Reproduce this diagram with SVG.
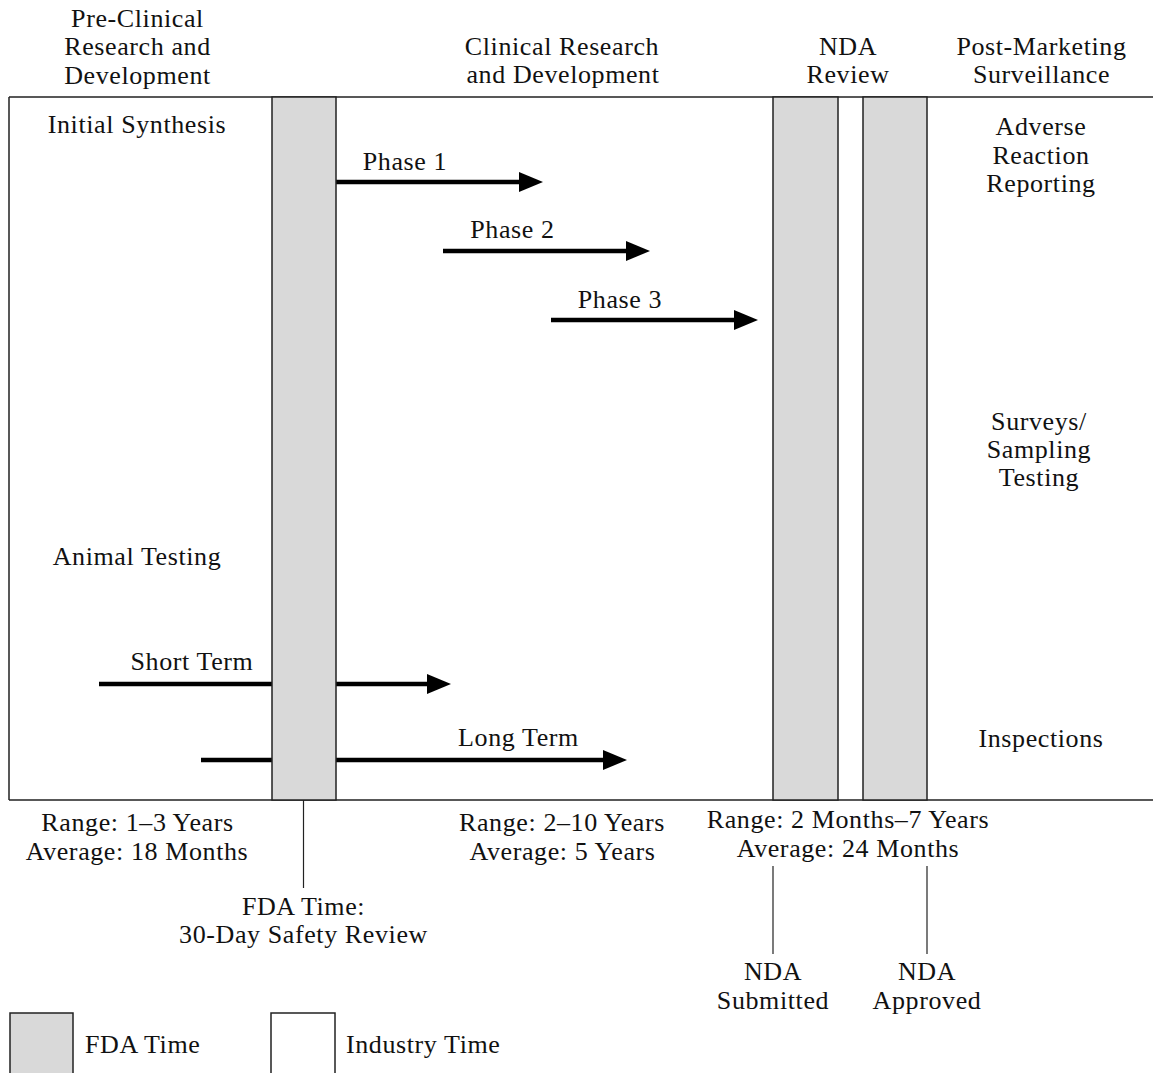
<svg xmlns="http://www.w3.org/2000/svg" width="1153" height="1073" viewBox="0 0 1153 1073">
<defs>
<style>
text{font-family:"Liberation Serif","Times New Roman",serif;font-size:26px;fill:#111;letter-spacing:0.6px}
.c{text-anchor:middle}
.frame{stroke:#222;stroke-width:1.5;fill:none}
.bar{fill:#d9d9d9;stroke:#222;stroke-width:1.5}
.thin{stroke:#222;stroke-width:1.2;fill:none}
.arr{stroke:#000;stroke-width:4.5;fill:none;marker-end:url(#ah)}
</style>
<marker id="ah" markerWidth="24" markerHeight="20" refX="4" refY="10" orient="auto" markerUnits="userSpaceOnUse">
<path d="M0,0 L24,10 L0,20 Z" fill="#000"/>
</marker>
</defs>
<rect width="1153" height="1073" fill="#fff"/>

<g id="frame">
<path class="frame" d="M9,97 H1153 M9,800 H1153 M9,97 V800"/>
</g>

<g id="headers">
<text class="c" x="137.5" y="27">Pre-Clinical</text>
<text class="c" x="137.5" y="55">Research and</text>
<text class="c" x="137.5" y="84">Development</text>
<text class="c" x="562" y="55">Clinical Research</text>
<text class="c" x="563" y="83">and Development</text>
<text class="c" x="848" y="55">NDA</text>
<text class="c" x="848" y="83">Review</text>
<text class="c" x="1041.5" y="55">Post-Marketing</text>
<text class="c" x="1041.5" y="83">Surveillance</text>
</g>

<g id="connectors">
<line class="arr" x1="336" y1="182" x2="523" y2="182"/>
<line class="arr" x1="443" y1="251" x2="630" y2="251"/>
<line class="arr" x1="551" y1="320" x2="738" y2="320"/>
<line class="arr" x1="99" y1="684" x2="431" y2="684"/>
<line class="arr" x1="201" y1="760" x2="607" y2="760"/>
<line class="thin" x1="303.5" y1="800" x2="303.5" y2="888"/>
<line class="thin" x1="773" y1="866" x2="773" y2="954"/>
<line class="thin" x1="927" y1="866" x2="927" y2="954"/>
</g>

<g id="ind-bar">
<rect class="bar" x="272" y="97" width="64" height="703"/>
</g>
<g id="nda-submitted-bar">
<rect class="bar" x="773" y="97" width="65" height="703"/>
</g>
<g id="nda-approved-bar">
<rect class="bar" x="863" y="97" width="64" height="703"/>
</g>

<g id="preclinical">
<text class="c" x="137" y="133">Initial Synthesis</text>
<text class="c" x="137" y="565">Animal Testing</text>
<text class="c" x="192" y="670">Short Term</text>
<text class="c" x="518.5" y="746">Long Term</text>
</g>

<g id="phases">
<text class="c" x="405" y="170">Phase 1</text>
<text class="c" x="512.5" y="238">Phase 2</text>
<text class="c" x="620" y="308">Phase 3</text>
</g>

<g id="postmarketing">
<text class="c" x="1041" y="135">Adverse</text>
<text class="c" x="1041" y="164">Reaction</text>
<text class="c" x="1041" y="192">Reporting</text>
<text class="c" x="1039" y="430">Surveys/</text>
<text class="c" x="1039" y="458">Sampling</text>
<text class="c" x="1039" y="486">Testing</text>
<text class="c" x="1041" y="747">Inspections</text>
</g>

<g id="ranges">
<text class="c" x="137.5" y="831">Range: 1–3 Years</text>
<text class="c" x="137" y="860">Average: 18 Months</text>
<text class="c" x="562" y="831">Range: 2–10 Years</text>
<text class="c" x="562.5" y="860">Average: 5 Years</text>
<text class="c" x="848" y="828">Range: 2 Months–7 Years</text>
<text class="c" x="848" y="857">Average: 24 Months</text>
</g>

<g id="fda-time-label">
<text class="c" x="303.5" y="915">FDA Time:</text>
<text class="c" x="303.5" y="943">30-Day Safety Review</text>
</g>

<g id="nda-submitted-label">
<text class="c" x="773" y="980">NDA</text>
<text class="c" x="773" y="1009">Submitted</text>
</g>
<g id="nda-approved-label">
<text class="c" x="927" y="980">NDA</text>
<text class="c" x="927" y="1009">Approved</text>
</g>

<g id="legend-fda">
<rect class="bar" x="10" y="1013" width="63" height="70"/>
<text x="85" y="1053">FDA Time</text>
</g>
<g id="legend-industry">
<rect x="271" y="1013" width="64" height="70" fill="#fff" stroke="#222" stroke-width="1.5"/>
<text x="346" y="1053">Industry Time</text>
</g>
</svg>
